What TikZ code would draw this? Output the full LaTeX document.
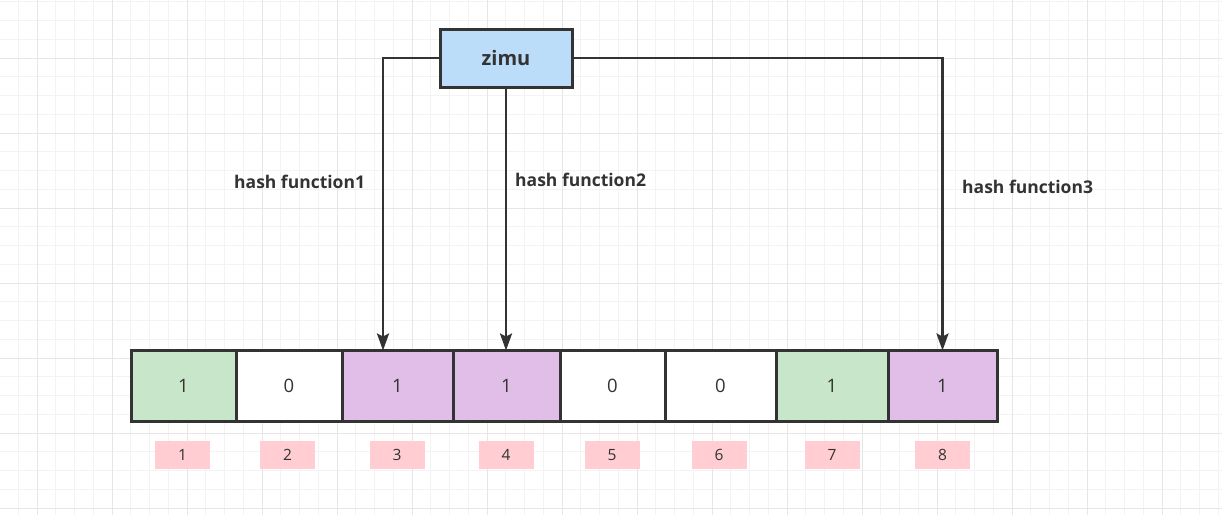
\documentclass[tikz,border=0pt]{standalone}
\usepackage{fontspec}
\setmainfont{Open Sans}
\usetikzlibrary{arrows.meta}
\definecolor{gridminor}{HTML}{F3F3F3}
\definecolor{gridmajor}{HTML}{E6E6E6}
\definecolor{edge}{HTML}{333333}
\definecolor{txt}{HTML}{333333}
\definecolor{zimublue}{HTML}{BBDDF9}
\definecolor{cellgreen}{HTML}{C8E6C9}
\definecolor{cellpurple}{HTML}{E1BEE7}
\definecolor{idxpink}{HTML}{FFCDD2}
\tikzset{
  cellbox/.style={draw=edge, line width=3pt, inner sep=0pt, outer sep=0pt,
    minimum height=71pt, text=txt, font=\fontsize{18.5}{20}\selectfont},
  idxbox/.style={fill=idxpink, inner sep=0pt, minimum width=55pt, minimum height=28pt,
    text=txt, font=\fontsize{15.5}{17}\selectfont},
  keybox/.style={draw=edge, fill=zimublue, line width=3pt, inner sep=0pt, outer sep=0pt,
    minimum width=132pt, minimum height=58pt, text=txt, font=\bfseries\fontsize{20}{22}\selectfont},
  arr/.style={draw=edge, line width=2.5pt, -{Stealth[length=17pt,width=12pt,inset=3pt]}},
  lbl/.style={text=txt, font=\bfseries\fontsize{17.5}{20}\selectfont, inner sep=0pt}
}
\begin{document}
\begin{tikzpicture}[x=1pt,y=-1pt]
\useasboundingbox (0,0) rectangle (1222,515);
\fill[white] (0,0) rectangle (1222,515);
% grid
\foreach \i in {0,...,65} {
  \pgfmathsetmacro\gx{-0.5+18.75*\i}
  \draw[gridminor, line width=1pt] (\gx,0) -- (\gx,515);
}
\foreach \i in {0,...,28} {
  \pgfmathsetmacro\gy{1.75+18.75*\i}
  \draw[gridminor, line width=1pt] (0,\gy) -- (1222,\gy);
}
\foreach \i in {0,...,16} {
  \pgfmathsetmacro\gx{37+75*\i}
  \draw[gridmajor, line width=1pt] (\gx,0) -- (\gx,515);
}
\foreach \i in {0,...,6} {
  \pgfmathsetmacro\gy{58+75*\i}
  \draw[gridmajor, line width=1pt] (0,\gy) -- (1222,\gy);
}
% cells
\node[cellbox, fill=cellgreen,  minimum width=105pt] (c1) at (183.5,386) {1};
\node[cellbox, fill=white,      minimum width=106pt] (c2) at (289,386) {0};
\node[cellbox, fill=cellpurple, minimum width=111pt] (c3) at (397.5,386) {1};
\node[cellbox, fill=cellpurple, minimum width=107pt] (c4) at (506.5,386) {1};
\node[cellbox, fill=white,      minimum width=105pt] (c5) at (612.5,386) {0};
\node[cellbox, fill=white,      minimum width=111pt] (c6) at (720.5,386) {0};
\node[cellbox, fill=cellgreen,  minimum width=112pt] (c7) at (832,386) {1};
\node[cellbox, fill=cellpurple, minimum width=109pt] (c8) at (942.5,386) {1};
% index labels
\foreach \n/\xx in {1/182.5,2/287.5,3/397,4/506,5/612,6/719,7/832,8/942.5} {
  \node[idxbox] (i\n) at (\xx,455) {\n};
}
% key
\node[keybox] (zimu) at (506,58) {zimu};
% arrows
\draw[arr] (zimu.west) -| ([xshift=-14.5pt]c3.north);
\draw[arr] (zimu.south) -- (zimu.south |- c4.north);
\draw[arr] (zimu.east) -| (c8.north);
% labels
\node[lbl, anchor=west] (h1) at (234,182) {hash function1};
\node[lbl, anchor=west] (h2) at (515,180) {hash function2};
\node[lbl, anchor=west] (h3) at (962,187) {hash function3};
\end{tikzpicture}
\end{document}
